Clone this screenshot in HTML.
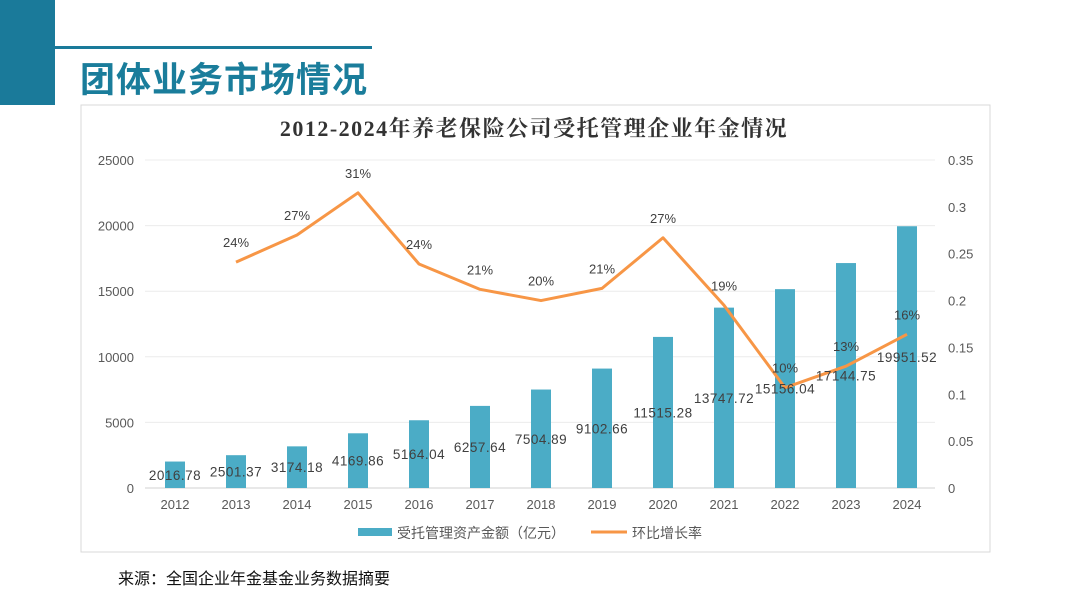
<!DOCTYPE html>
<html><head><meta charset="utf-8"><style>
body{margin:0;width:1080px;height:608px;background:#fff;overflow:hidden;font-family:"Liberation Sans","Noto Sans CJK SC",sans-serif;position:relative}
#blk{position:absolute;left:0;top:0;width:55px;height:105px;background:#1a7a9a}
#hl{position:absolute;left:55px;top:46px;width:317px;height:3px;background:#1a7a9a}
#ttl{position:absolute;left:80px;top:52px;font-size:35px;font-weight:bold;color:#1a7d9b;letter-spacing:1px;font-family:"Noto Sans CJK SC",sans-serif}
#src{position:absolute;left:118px;top:565px;font-size:16px;color:#111;font-family:"Noto Sans CJK SC",sans-serif}
svg{position:absolute;left:0;top:0}
</style></head><body>
<div id="blk"></div>
<div id="hl"></div>
<div id="ttl">团体业务市场情况</div>
<svg id="c" width="1080" height="608"></svg>
<div id="src">来源：全国企业年金基金业务数据摘要</div>
<script>
const years=["2012","2013","2014","2015","2016","2017","2018","2019","2020","2021","2022","2023","2024"];
const assets=[2016.78,2501.37,3174.18,4169.86,5164.04,6257.64,7504.89,9102.66,11515.28,13747.72,15156.04,17144.75,19951.52];
const growth=[null,0.241,0.27,0.315,0.239,0.212,0.2,0.213,0.267,0.195,0.107,0.13,0.164];
const growthLabels=["","24%","27%","31%","24%","21%","20%","21%","27%","19%","10%","13%","16%"];
const leftTicks=[0,5000,10000,15000,20000,25000];
const rightTicks=["0","0.05","0.1","0.15","0.2","0.25","0.3","0.35"];
const NS="http://www.w3.org/2000/svg";const svg=document.getElementById('c');
const y0=488,yTop=160;
const yL=v=>y0-(v/25000)*(y0-yTop);
const yR=v=>y0-(v/0.35)*(y0-yTop);
const xS=i=>175+i*61;
function mk(t,a,txt){const e=document.createElementNS(NS,t);for(const k in a)e.setAttribute(k,a[k]);if(txt!=null)e.textContent=txt;svg.appendChild(e);return e;}
let e=mk('rect',{x:81,y:105,width:909,height:447,fill:'#fff',stroke:'#d9d9d9'});

e=mk('text',{x:534,y:136,'text-anchor':'middle','font-size':22,'font-weight':'bold',fill:'#333','letter-spacing':'1.5','font-family':'"Liberation Serif","Noto Serif CJK SC",serif'},'2012-2024年养老保险公司受托管理企业年金情况');

leftTicks.forEach(v=>{const y=yL(v);
e=mk('line',{x1:145,x2:935,y1:y,y2:y,stroke:v===0?'#d0d0d0':'#ececec'});

e=mk('text',{x:134,y:y+5,'text-anchor':'end','font-size':13,fill:'#595959'},String(v));
});
rightTicks.forEach(t=>{const y=yR(parseFloat(t));
e=mk('text',{x:948,y:y+5,'font-size':13,fill:'#595959'},t);
});
years.forEach((yr,i)=>{
e=mk('rect',{x:xS(i)-10,y:yL(assets[i]),width:20,height:y0-yL(assets[i]),fill:'#4bacc6'});

e=mk('text',{x:xS(i),y:509,'text-anchor':'middle','font-size':13,fill:'#595959'},yr);
});
const pts=[];growth.forEach((g,i)=>{if(g!=null)pts.push(xS(i)+','+yR(g));});
e=mk('polyline',{points:pts.join(' '),fill:'none',stroke:'#f79646','stroke-width':3,'stroke-linejoin':'round'});

years.forEach((yr,i)=>{
e=mk('text',{x:xS(i),y:(yL(assets[i])+y0)/2+5,'text-anchor':'middle','font-size':13.5,fill:'#404040','letter-spacing':'0.5'},assets[i].toFixed(2));

if(growth[i]!=null){e=mk('text',{x:xS(i),y:yR(growth[i])-15,'text-anchor':'middle','font-size':13,fill:'#404040'},growthLabels[i]);
}});
e=mk('rect',{x:358,y:528,width:34,height:8,fill:'#4bacc6'});

e=mk('text',{x:397,y:538,'font-size':14,fill:'#595959'},'受托管理资产金额（亿元）');

e=mk('line',{x1:591,x2:627,y1:532,y2:532,stroke:'#f79646','stroke-width':3});

e=mk('text',{x:632,y:538,'font-size':14,fill:'#595959'},'环比增长率');

</script>
</body></html>
